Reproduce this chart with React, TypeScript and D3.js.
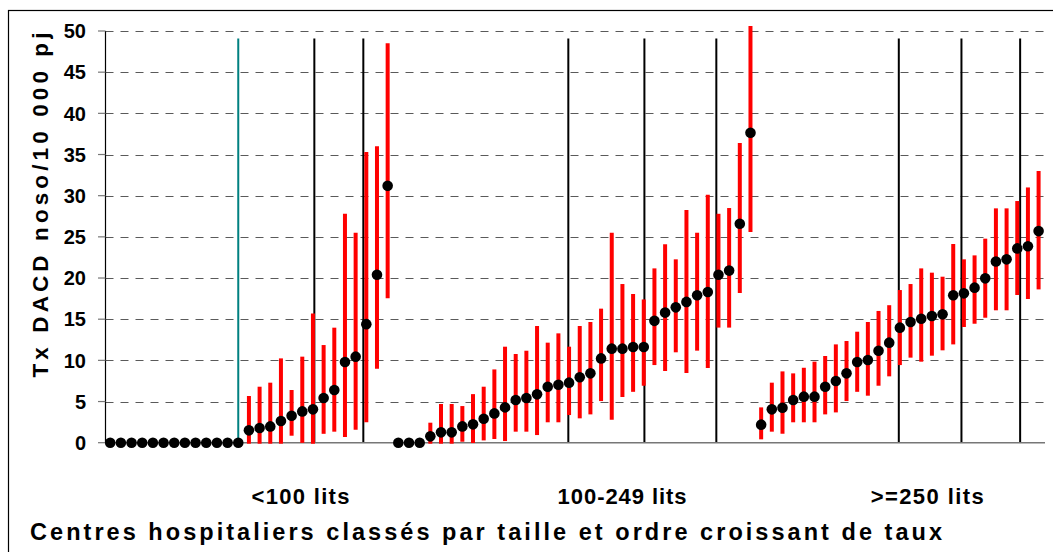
import React from 'react'
import * as d3 from 'd3'

// taux DACD nosocomiales / 10 000 jours patients, classés par taille
const tauxPetits = [0, 0, 0, 0, 0, 0, 0, 0, 0, 0, 0, 0, 0, 1.5, 1.78, 1.98, 2.63, 3.28, 3.8, 4.05, 5.43, 6.4, 9.8, 10.45, 14.4, 20.4, 31.2]
const hautPetits = [0, 0, 0, 0, 0, 0, 0, 0, 0, 0, 0, 0, 0, 5.67, 6.8, 7.29, 10.24, 6.4, 10.45, 15.7, 11.86, 13.97, 27.8, 25.5, 35.3, 36.0, 48.5]
const basPetits = [0, 0, 0, 0, 0, 0, 0, 0, 0, 0, 0, 0, 0, 0, 0, 0, 0, 0.97, 0.1, 0, 1.2, 1.46, 0.8, 1.7, 2.6, 9.1, 17.65]

const tauxMoyens = [0, 0, 0, 0.77, 1.26, 1.26, 1.98, 2.23, 2.9, 3.56, 4.29, 5.18, 5.43, 5.87, 6.8, 7.04, 7.29, 7.94, 8.42, 10.24, 11.42, 11.42, 11.62, 11.62, 14.8, 15.8, 16.44, 17.1, 17.9, 18.3, 20.4, 20.9, 26.6, 37.65]
const hautMoyens = [0, 0, 0, 2.43, 4.7, 4.7, 4.45, 5.9, 6.8, 8.9, 11.66, 10.77, 11.17, 14.17, 12.15, 13.28, 11.66, 14.17, 14.66, 16.28, 25.5, 19.27, 18.06, 17.4, 21.17, 24.1, 22.27, 28.26, 25.5, 30.1, 27.8, 28.5, 36.4, 50.6]
const basMoyens = [0, 0, 0, 0, 0, 0, 0.24, 0.08, 0.4, 0.57, 0.32, 1.46, 1.46, 1.05, 2.6, 2.6, 3.48, 3.08, 3.56, 5.18, 2.9, 5.67, 6.3, 7.04, 9.55, 8.83, 11.1, 8.6, 11.3, 9.2, 14.1, 14.1, 18.3, 25.7]

const tauxGrands = [2.19, 4.05, 4.25, 5.18, 5.59, 5.59, 6.8, 7.49, 8.42, 9.8, 10.04, 11.17, 12.15, 13.97, 14.66, 15.06, 15.38, 15.59, 17.9, 18.14, 18.83, 19.96, 22.0, 22.27, 23.6, 23.85, 25.7]
const hautGrands = [4.29, 7.29, 8.66, 8.42, 9.1, 9.84, 10.53, 11.94, 12.35, 13.48, 14.66, 16.0, 16.7, 18.54, 19.27, 21.17, 20.65, 20.16, 24.13, 22.27, 22.75, 24.78, 28.46, 28.46, 29.35, 31.0, 33.0]
const basGrands = [0.53, 1.46, 1.21, 2.6, 2.6, 2.6, 3.56, 3.8, 5.18, 6.3, 5.83, 7.04, 8.18, 9.55, 10.45, 9.96, 10.69, 11.34, 12.06, 14.17, 14.57, 15.3, 16.2, 16.2, 18.06, 17.57, 18.74]

// repères verticaux (position en rang de centre)
const repereVert = [12.0]
const reperesNoirs = [19.13, 23.72, 42.93, 50.06, 56.8, 73.9, 79.77, 85.27]

const categories = ['<100 lits', '100-249 lits', '>=250 lits']
const categoriePos = [17.83, 47.97, 76.56]
const categorieLargeur = [98, 129, 113]

const yTicks = [0, 5, 10, 15, 20, 25, 30, 35, 40, 45, 50]

const taux = [...tauxPetits, ...tauxMoyens, ...tauxGrands]
const haut = [...hautPetits, ...hautMoyens, ...hautGrands]
const bas = [...basPetits, ...basMoyens, ...basGrands]

const W = 1053
const H = 552
const font = '"Liberation Sans", Arial, sans-serif'

export default function App() {
  const x = d3.scaleLinear().domain([0, taux.length - 1]).range([110.2, 1038.6])
  const y = d3.scaleLinear().domain([0, 50]).range([442.7, 31])
  const axeG = 105.5
  const axeD = 1045

  return (
    <svg width={W} height={H} style={{ position: 'absolute', left: 0, top: 0, background: '#fff' }}>
      <rect x={8.5} y={10.5} width={W + 20} height={H + 20} fill="#fff" stroke="#000" strokeWidth={1.2} />

      {/* grille */}
      {yTicks.filter(t => t > 0).map(t => (
        <line key={t} x1={axeG} x2={axeD} y1={Math.round(y(t)) + 0.5} y2={Math.round(y(t)) + 0.5}
          stroke="#5a5a5a" strokeWidth={1} strokeDasharray="8,7" />
      ))}

      {/* repères */}
      {repereVert.map((r, i) => (
        <line key={'v' + i} x1={x(r)} x2={x(r)} y1={y(0)} y2={y(49.1)} stroke="#008080" strokeWidth={2} />
      ))}
      {reperesNoirs.map((r, i) => (
        <line key={'n' + i} x1={x(r)} x2={x(r)} y1={y(0)} y2={y(49.1)} stroke="#000" strokeWidth={2} />
      ))}

      {/* axes */}
      <line x1={axeG} x2={axeD} y1={y(0)} y2={y(0)} stroke="#777" strokeWidth={1.5} />
      <line x1={axeG} x2={axeG} y1={y(50)} y2={y(0)} stroke="#000" strokeWidth={1.2} />
      {yTicks.map(t => (
        <g key={'t' + t}>
          <line x1={98} x2={axeG} y1={y(t)} y2={y(t)} stroke="#777" strokeWidth={1.2} />
          <text x={86} y={y(t)} dy="0.36em" textAnchor="end" fontFamily={font} fontWeight="bold" fontSize={20}>{t}</text>
        </g>
      ))}

      {/* intervalles de confiance */}
      {taux.map((v, i) => haut[i] > bas[i] ? (
        <line key={'ic' + i} x1={x(i)} x2={x(i)} y1={y(bas[i]) + 1} y2={y(haut[i])} stroke="#ff0000" strokeWidth={4} />
      ) : null)}

      {/* taux */}
      {taux.map((v, i) => (
        <circle key={'p' + i} cx={x(i)} cy={y(v)} r={5.3} fill="#000" />
      ))}

      {/* libellés */}
      {categories.map((c, i) => (
        <text key={c} x={x(categoriePos[i])} y={504} textAnchor="middle" fontFamily={font} fontWeight="bold"
          fontSize={22} textLength={categorieLargeur[i]} lengthAdjust="spacing">{c}</text>
      ))}
      <text x={486} y={540} textAnchor="middle" fontFamily={font} fontWeight="bold" fontSize={23.5}
        textLength={912} lengthAdjust="spacing">Centres hospitaliers classés par taille et ordre croissant de taux</text>
      <text transform="translate(48,205) rotate(-90)" textAnchor="middle" fontFamily={font} fontWeight="bold"
        fontSize={22.5} textLength={345} lengthAdjust="spacing">Tx DACD noso/10 000 pj</text>
    </svg>
  )
}
